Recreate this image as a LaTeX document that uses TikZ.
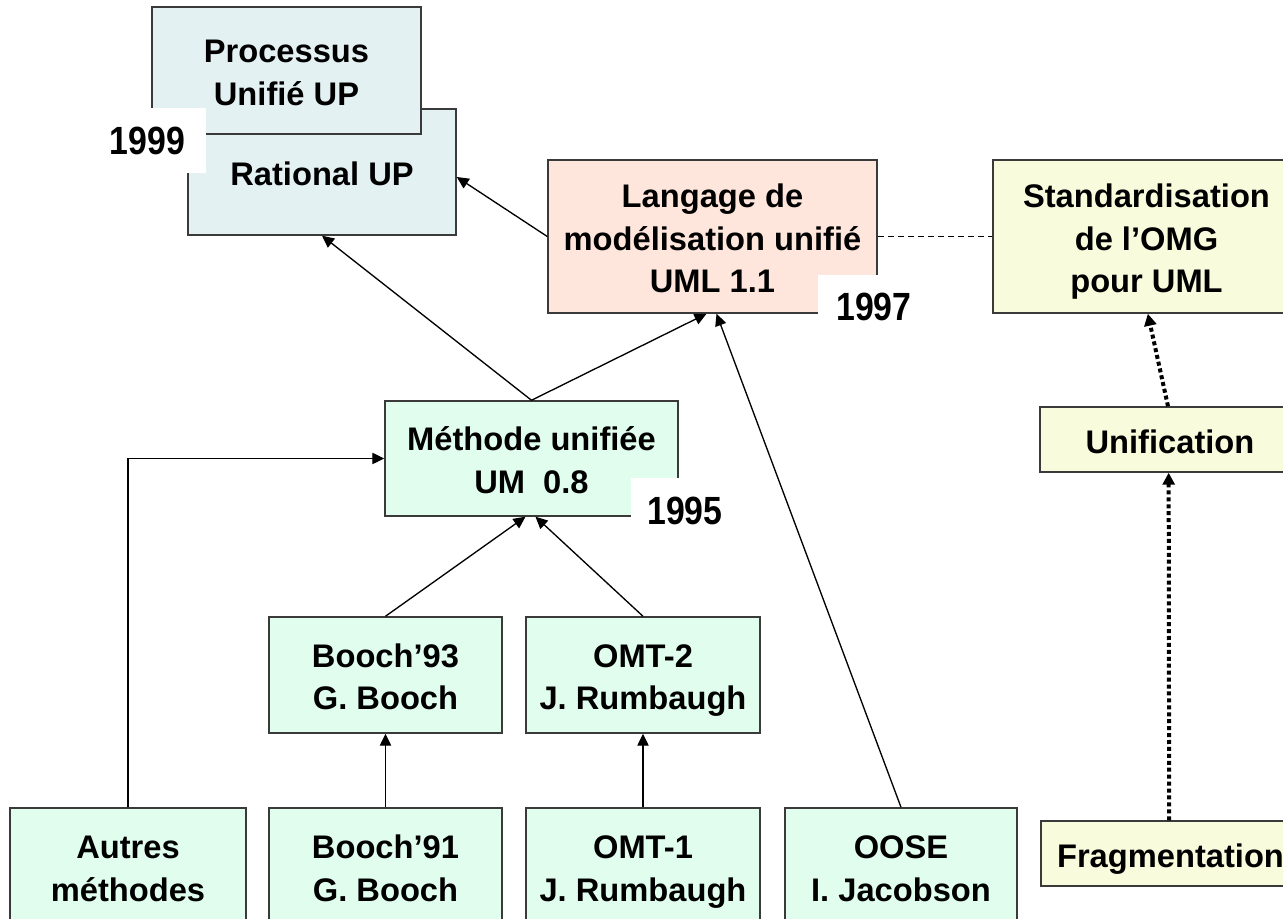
\documentclass[tikz,border=0pt]{standalone}
\usepackage{fontspec}
\setmainfont{Liberation Sans}
\usetikzlibrary{arrows.meta}
\definecolor{blueF}{HTML}{E3F1F3}
\definecolor{pinkF}{HTML}{FFE6DC}
\definecolor{yellowF}{HTML}{F8FCDC}
\definecolor{greenF}{HTML}{E0FDEE}
\definecolor{boxline}{HTML}{3A3A3A}
\begin{document}
\begin{tikzpicture}[x=0.75pt,y=-0.75pt,
  box/.style={draw=boxline, line width=1.1pt, align=center, inner sep=0pt,
    font=\fontsize{24.5}{32}\selectfont\bfseries},
  lone/.style={text height=20.5pt, text depth=0pt},
  ltwo/.style={text height=52.5pt, text depth=0pt},
  lthree/.style={text height=84.5pt, text depth=0pt},
  wd/.style={minimum width=#1*0.75pt},
  ht/.style={minimum height=#1*0.75pt},
  year/.style={inner sep=0pt, font=\fontsize{29.5}{29.5}\selectfont\bfseries},
  arr/.style={line width=1pt, -{Triangle[length=9pt,width=8.5pt]}},
  dotarr/.style={line width=3pt, dash pattern=on 3pt off 2.2pt, -{Triangle[length=9pt,width=9pt]}},
  dashline/.style={line width=1pt, dash pattern=on 4.5pt off 3pt}]
\clip (0,0) rectangle (1283,919);
\fill[white] (0,0) rectangle (1283,919);
% top left
\node[box, lone, fill=blueF, wd=268, ht=126] (rat) at (322,172) {Rational UP};
\node[box, ltwo, fill=blueF, wd=269, ht=127] (proc) at (286.5,70.5) {Processus\\Unifié UP};
% UML
\node[box, lthree, fill=pinkF, wd=329, ht=153] (lang) at (712.5,236.5) {Langage de\\modélisation unifié\\UML 1.1};
% right column
\node[box, lthree, fill=yellowF, wd=307, ht=153] (std) at (1146.5,236.5) {Standardisation\\de l’OMG\\pour UML};
\node[box, lone, fill=yellowF, wd=260, ht=65] (unif) at (1170,439.5) {Unification};
\node[box, lone, fill=yellowF, wd=259, ht=65] (frag) at (1170.5,853.5) {Fragmentation};
% methods
\node[box, ltwo, fill=greenF, wd=293, ht=115] (meth) at (531.5,458.5) {Méthode unifiée\\UM~~0.8};
\node[box, ltwo, fill=greenF, wd=233, ht=116] (b93) at (385.5,675) {Booch’93\\G. Booch};
\node[box, ltwo, fill=greenF, wd=234, ht=116] (omt2) at (643,675) {OMT-2\\J. Rumbaugh};
\node[box, ltwo, fill=greenF, wd=236, ht=116] (autres) at (128,866) {Autres\\méthodes};
\node[box, ltwo, fill=greenF, wd=233, ht=116] (b91) at (385.5,866) {Booch’91\\G. Booch};
\node[box, ltwo, fill=greenF, wd=234, ht=116] (omt1) at (643,866) {OMT-1\\J. Rumbaugh};
\node[box, ltwo, fill=greenF, wd=232, ht=116] (oose) at (901,866) {OOSE\\I. Jacobson};
% connectors
\draw[arr] (meth.north) -- (rat.south);
\draw[arr] (meth.north) -- ([xshift=-4.5pt]lang.south);
\draw[arr] (lang.west) -- ([yshift=-3.75pt]rat.east);
\draw[arr] (oose.north) -- ([xshift=3pt]lang.south);
\draw[arr] (autres.north) |- (meth.west);
\draw[arr] (b93.north) -- ([xshift=-4.5pt]meth.south);
\draw[arr] (omt2.north) -- ([xshift=3pt]meth.south);
\draw[arr] (b91.north) -- (b93.south);
\draw[arr] (omt1.north) -- (omt2.south);
\draw[dashline] (lang.east) -- (std.west);
\draw[dotarr] ([xshift=-1.5pt]unif.north) -- ([xshift=1pt]std.south);
\draw[dotarr] ([xshift=-1pt]frag.north) -- ([xshift=-1pt]unif.south);
% years
\fill[white] (100,108) rectangle (206,173);
\node[year] (y99) at (147.5,140.5) {\scalebox{0.86}[1]{1999}};
\fill[white] (818,275) rectangle (925,335);
\node[year] (y97) at (874,307) {\scalebox{0.86}[1]{1997}};
\fill[white] (631,478) rectangle (730,540);
\node[year] (y95) at (685,511) {\scalebox{0.86}[1]{1995}};
\end{tikzpicture}
\end{document}
